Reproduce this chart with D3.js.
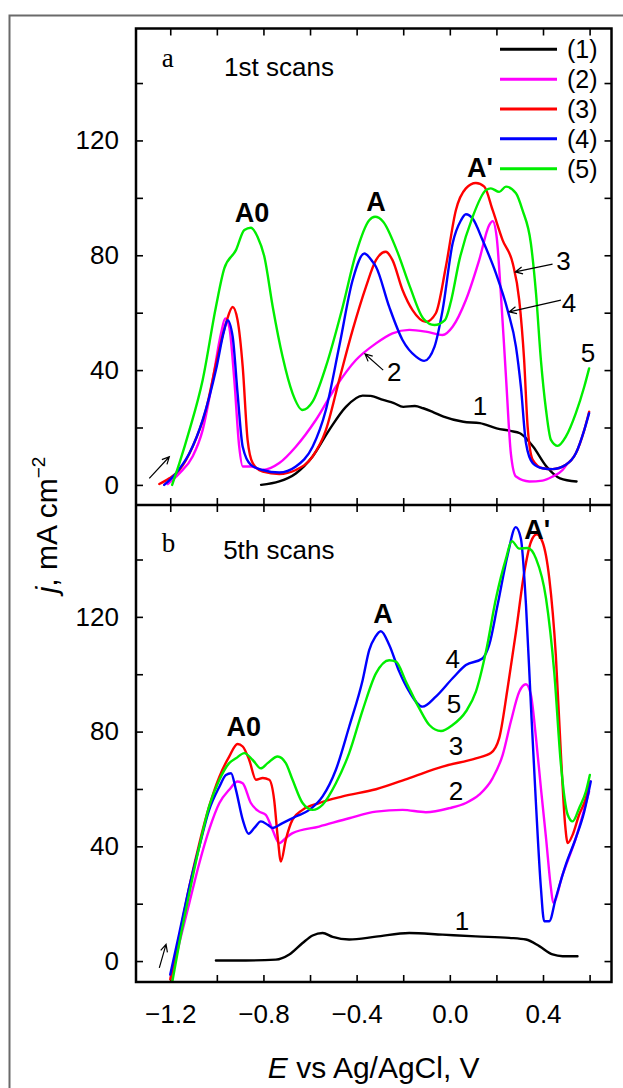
<!DOCTYPE html>
<html><head><meta charset="utf-8">
<script src="https://cdn.jsdelivr.net/npm/d3@7"></script>
<style>body{margin:0;background:#fff}svg{display:block}text{font-family:"Liberation Sans",Arial,sans-serif}</style>
</head><body><svg id="c" width="623" height="1088"></svg>
<script>
// ---------- data ----------
const seriesNames = ["(1)","(2)","(3)","(4)","(5)"];
const seriesColors = ["#000000","#ff00ff","#ff0000","#0000ff","#00ee00"];
const xTickValues = [-1.2,-1.0,-0.8,-0.6,-0.4,-0.2,0.0,0.2,0.4,0.6];
const xTickLabels = {"-1.2":"\u22121.2","-0.8":"\u22120.8","-0.4":"\u22120.4","0":"0.0","0.4":"0.4"};
const yTickValues = [0,20,40,60,80,100,120,140];
const yTickLabels = {"0":"0","40":"40","80":"80","120":"120"};

// panel a: 1st scans, [E (V), j (mA cm-2)]
const scanA1 = [[-0.810,0],[-0.732,1.2],[-0.661,4],[-0.589,9.9],[-0.518,19.1],[-0.446,27.2],[-0.374,31.1],[-0.340,31],[-0.286,29.6],[-0.240,28.5],[-0.200,27.2],[-0.150,27.5],[-0.114,26.7],[-0.070,25.3],[-0.027,23.8],[0.058,22],[0.129,21.5],[0.201,19.7],[0.260,18.8],[0.301,18],[0.330,16],[0.358,13.3],[0.415,6.4],[0.473,2.3],[0.544,1.2]];
const scanA2 = [[-1.211,0.3],[-1.161,4],[-1.104,9.9],[-1.061,19.1],[-1.018,36.5],[-0.982,52.8],[-0.964,58],[-0.947,55.1],[-0.925,36.5],[-0.904,13.3],[-0.889,6.4],[-0.854,6.4],[-0.803,5.2],[-0.732,7.6],[-0.661,13.3],[-0.575,22.6],[-0.489,34.2],[-0.403,43.5],[-0.317,49.3],[-0.246,52.8],[-0.174,54],[-0.103,53.4],[-0.031,52.2],[0.012,55.1],[0.069,64.4],[0.126,78.3],[0.169,90.5],[0.184,91.9],[0.201,86.4],[0.219,66.7],[0.241,37.7],[0.262,11],[0.284,2.9],[0.341,1.2],[0.398,1.5],[0.441,2.9],[0.484,5.2],[0.506,7.6]];
const scanA3 = [[-1.247,0.3],[-1.204,2.3],[-1.161,5.2],[-1.104,13.3],[-1.047,26.1],[-0.997,44.7],[-0.961,56.3],[-0.932,62],[-0.911,57.4],[-0.889,41.2],[-0.868,15.7],[-0.846,7.6],[-0.803,4.6],[-0.732,3.8],[-0.661,5.2],[-0.589,9.9],[-0.532,19.1],[-0.475,36.5],[-0.417,54],[-0.360,69],[-0.317,78.3],[-0.275,81.2],[-0.246,78.3],[-0.203,67.9],[-0.160,60.9],[-0.103,56.8],[-0.060,59.8],[-0.017,76],[0.026,95.7],[0.069,103.3],[0.112,105.2],[0.148,103.9],[0.184,95.7],[0.227,85.2],[0.270,77.2],[0.298,64.4],[0.319,43.5],[0.334,20.3],[0.356,8.7],[0.398,5.8],[0.441,5.5],[0.498,7],[0.541,11],[0.577,19.1],[0.598,25.5]];
const scanA4 = [[-1.226,0],[-1.176,4],[-1.118,11],[-1.061,22.6],[-1.004,40],[-0.968,54],[-0.954,57.4],[-0.932,51.6],[-0.911,31.9],[-0.889,13.3],[-0.854,7],[-0.803,5.2],[-0.732,4.3],[-0.661,6.4],[-0.589,13.3],[-0.532,26.1],[-0.475,48.1],[-0.417,71.4],[-0.367,80.6],[-0.331,77.7],[-0.317,76],[-0.260,62],[-0.203,50.5],[-0.145,44.7],[-0.110,43.2],[-0.066,48.1],[-0.031,60.9],[0.012,84.1],[0.048,92.2],[0.069,94.3],[0.098,92.8],[0.141,85.2],[0.198,73.7],[0.248,60.9],[0.284,48.1],[0.305,34.2],[0.327,14.5],[0.356,7.6],[0.398,5.8],[0.441,5.5],[0.498,7],[0.541,11],[0.577,19.1],[0.598,25]];
const scanA5 = [[-1.192,0],[-1.161,7.5],[-1.118,19],[-1.061,36.5],[-1.004,62],[-0.968,75.4],[-0.918,81.8],[-0.882,88.8],[-0.854,89.6],[-0.825,86.4],[-0.796,79.5],[-0.760,62],[-0.718,44.7],[-0.675,31.9],[-0.632,26.1],[-0.589,29],[-0.532,41.2],[-0.460,62],[-0.403,80.6],[-0.346,92.2],[-0.321,93.4],[-0.286,91.7],[-0.228,81.8],[-0.171,69],[-0.114,58],[-0.066,55.7],[-0.021,57.4],[0.005,64],[0.041,78.3],[0.098,93.4],[0.155,102.7],[0.176,103.3],[0.212,102.1],[0.241,103.9],[0.284,101.6],[0.312,95.7],[0.348,84.1],[0.370,66.7],[0.391,43.5],[0.413,26.1],[0.434,15.7],[0.463,13.6],[0.498,16.8],[0.541,25],[0.577,34.2],[0.598,40.6]];

// panel b: 5th scans
const scanB1 = [[-1.004,0.2],[-0.876,0.2],[-0.747,0.5],[-0.689,2.3],[-0.632,6.3],[-0.589,8.9],[-0.546,9.8],[-0.503,8.4],[-0.432,7.5],[-0.317,8.5],[-0.174,9.8],[-0.031,9.2],[0.112,8.6],[0.255,8.1],[0.327,7.5],[0.384,5.2],[0.441,2.3],[0.484,1.7],[0.548,1.7]];
const scanB2 = [[-1.197,-5.8],[-1.161,6.3],[-1.118,20.3],[-1.075,34.2],[-1.033,45.8],[-0.989,55.1],[-0.947,59.7],[-0.911,62.6],[-0.889,62],[-0.854,55.1],[-0.818,52.1],[-0.790,51],[-0.761,45.8],[-0.732,41.1],[-0.704,42.9],[-0.675,44.6],[-0.561,46.9],[-0.432,49.8],[-0.317,52.1],[-0.203,52.7],[-0.103,51.9],[-0.002,53.3],[0.069,55.1],[0.126,58],[0.184,63.8],[0.227,71.9],[0.262,83.5],[0.298,93.9],[0.327,96.5],[0.348,92.8],[0.370,77.7],[0.391,60.3],[0.413,42.9],[0.434,25.5],[0.444,20.3],[0.484,30.1],[0.541,42.9],[0.598,59.1]];
const scanB3 = [[-1.200,-6.4],[-1.161,8.6],[-1.118,26],[-1.075,41.1],[-1.033,53.9],[-0.989,64.3],[-0.947,71.3],[-0.911,75.7],[-0.889,74.8],[-0.861,70.1],[-0.832,63.2],[-0.803,63.8],[-0.775,63.2],[-0.754,56.2],[-0.739,43.4],[-0.725,34.7],[-0.704,42.3],[-0.675,49.3],[-0.632,52.7],[-0.561,55.1],[-0.460,57.4],[-0.317,59.9],[-0.174,63.8],[-0.031,67.8],[0.112,70.7],[0.176,72.5],[0.212,77.7],[0.248,95.1],[0.284,114.8],[0.320,135.7],[0.348,146.1],[0.373,148.8],[0.398,146.1],[0.427,133.4],[0.455,106.7],[0.477,71.9],[0.495,47.5],[0.506,41.1],[0.527,44],[0.555,51],[0.584,56.8],[0.601,62.6]];
const scanB4 = [[-1.2,-4.7],[-1.161,9.8],[-1.118,26],[-1.075,40],[-1.033,52.7],[-0.989,60.8],[-0.961,64.9],[-0.939,65.5],[-0.918,59.7],[-0.889,49.3],[-0.864,44.4],[-0.839,46.4],[-0.811,48.7],[-0.782,47.5],[-0.761,46.4],[-0.718,48.1],[-0.661,50.4],[-0.603,52.7],[-0.546,57.4],[-0.489,66.7],[-0.432,81.7],[-0.374,98],[-0.346,108.4],[-0.320,113],[-0.296,115],[-0.260,110.2],[-0.217,100.9],[-0.174,93.9],[-0.117,88.7],[-0.060,92.2],[0.012,98.6],[0.069,103.2],[0.140,105.5],[0.169,110.2],[0.205,124.1],[0.248,141.5],[0.283,151.3],[0.305,147.3],[0.327,124.1],[0.348,89.3],[0.370,54.5],[0.391,25.5],[0.405,13.9],[0.427,13.9],[0.455,22],[0.498,33.6],[0.541,42.9],[0.577,52.1],[0.605,62.6]];
const scanB5 = [[-1.192,-7.6],[-1.161,6.3],[-1.118,23.7],[-1.075,40],[-1.033,53.9],[-0.989,63.2],[-0.947,69],[-0.918,70.7],[-0.882,72.5],[-0.846,70.1],[-0.811,67.2],[-0.782,69],[-0.739,71.3],[-0.704,69],[-0.675,63.2],[-0.632,55.1],[-0.589,52.7],[-0.546,54.5],[-0.489,62],[-0.432,72.5],[-0.374,87.5],[-0.317,100.3],[-0.260,104.9],[-0.231,104.4],[-0.188,97.4],[-0.131,88.1],[-0.088,82.3],[-0.038,80.2],[0.012,82.3],[0.069,87],[0.112,93.9],[0.155,107.8],[0.198,126.4],[0.241,140.3],[0.266,146.4],[0.298,143.8],[0.334,144],[0.370,140.3],[0.413,126.4],[0.448,100.9],[0.477,68.4],[0.506,51],[0.527,48.7],[0.555,53.3],[0.584,59.1],[0.601,64.9]];

// annotations in data units
const labelsA = [
  {t:"A0",E:-0.849,j:91.5,bold:true,anchor:"middle"},
  {t:"A",E:-0.317,j:95.4,bold:true,anchor:"middle"},
  {t:"A'",E:0.129,j:107.2,bold:true,anchor:"middle"},
  {t:"2",E:-0.270,j:36.2,anchor:"start"},
  {t:"1",E:0.129,j:24.4,anchor:"middle"},
  {t:"3",E:0.488,j:74.8,anchor:"middle"},
  {t:"4",E:0.511,j:60.3,anchor:"middle"},
  {t:"5",E:0.593,j:42.8,anchor:"middle"},
  {t:"1st scans",E:-0.969,j:142.6,anchor:"start"}
];
const arrowsA = [
  {from:[-1.290,2.3],to:[-1.204,9.8]},
  {from:[-0.286,40],to:[-0.364,45.6]},
  {from:[0.441,76.9],to:[0.281,74.2]},
  {from:[0.477,64.4],to:[0.255,60.3]}
];
const labelsB = [
  {t:"A0",E:-0.884,j:78.3,bold:true,anchor:"middle"},
  {t:"A",E:-0.287,j:118,bold:true,anchor:"middle"},
  {t:"A'",E:0.375,j:147,bold:true,anchor:"middle"},
  {t:"4",E:0.012,j:102.3,anchor:"middle"},
  {t:"5",E:0.018,j:86.6,anchor:"middle"},
  {t:"3",E:0.026,j:72,anchor:"middle"},
  {t:"2",E:0.026,j:56.3,anchor:"middle"},
  {t:"1",E:0.052,j:11,anchor:"middle"},
  {t:"5th scans",E:-0.973,j:140,anchor:"start"}
];
const arrowsB = [
  {from:[-1.247,-2.4],to:[-1.218,5.8]}
];

// ---------- drawing ----------
const svg = d3.select("#c");
const L = 136, R = 611.5, topA = 28.5, mid = 505, botB = 982;
const x = d3.scaleLinear().domain([-1.347, 0.694]).range([L, R]);
const yA = d3.scaleLinear().domain([-7, 159]).range([mid, topA]);
const yB = d3.scaleLinear().domain([-7.3, 159]).range([botB, mid]);

// outer frame
svg.append("rect").attr("x",9.5).attr("y",15.5).attr("width",700).attr("height",1200)
  .attr("fill","none").attr("stroke","#6a6a6a").attr("stroke-width",2);

const defs = svg.append("defs");
function clip(id, y0, y1){
  defs.append("clipPath").attr("id",id).append("rect")
    .attr("x",L).attr("y",y0).attr("width",R-L).attr("height",y1-y0);
}
clip("cpA", topA, mid); clip("cpB", mid, botB);

function styleAxis(g, labels){
  g.select(".domain").remove();
  g.selectAll(".tick line").attr("stroke","#000").attr("stroke-width",1.6);
  g.selectAll("text").attr("font-size",26).attr("fill","#000")
    .attr("font-family",'"Liberation Sans",Arial,sans-serif');
}
const fmtX = d => xTickLabels[String(+d.toFixed(1))] || "";
const fmtY = d => yTickLabels[String(d)] || "";
const tk = 7;

function panel(y, y0, y1, scans, labels, arrows, cp, showBottomLabels){
  // axes
  const gl = svg.append("g").attr("transform",`translate(${L},0)`)
    .call(d3.axisLeft(y).tickValues(yTickValues).tickSize(-tk).tickPadding(17).tickFormat(fmtY));
  styleAxis(gl);
  const gr = svg.append("g").attr("transform",`translate(${R},0)`)
    .call(d3.axisRight(y).tickValues(yTickValues).tickSize(-tk).tickFormat(""));
  styleAxis(gr);
  const gt = svg.append("g").attr("transform",`translate(0,${y0})`)
    .call(d3.axisTop(x).tickValues(xTickValues).tickSize(-tk).tickFormat(""));
  styleAxis(gt);
  const gb = svg.append("g").attr("transform",`translate(0,${y1})`)
    .call(d3.axisBottom(x).tickValues(xTickValues).tickSize(-tk).tickPadding(23)
      .tickFormat(showBottomLabels ? fmtX : ""));
  styleAxis(gb);

  const line = d3.line().x(d=>x(d[0])).y(d=>y(d[1])).curve(d3.curveMonotoneX);
  const g = svg.append("g").attr("clip-path",`url(#${cp})`);
  scans.forEach((s,i)=>{
    g.append("path").datum(s).attr("d",line).attr("fill","none")
      .attr("stroke",seriesColors[i]).attr("stroke-width",2.4)
      .attr("stroke-linejoin","round").attr("stroke-linecap","round");
  });

  labels.forEach(l=>{
    svg.append("text").attr("x",x(l.E)).attr("y",y(l.j))
      .attr("text-anchor",l.anchor).attr("font-size",l.bold?27:26)
      .attr("font-weight",l.bold?"bold":"normal").attr("fill","#000").text(l.t);
  });

  arrows.forEach(a=>{
    const x1=x(a.from[0]), y1=y(a.from[1]), x2=x(a.to[0]), y2=y(a.to[1]);
    const ang = Math.atan2(y2-y1, x2-x1), h=8, w=0.45;
    const p1=[x2-h*Math.cos(ang-w), y2-h*Math.sin(ang-w)];
    const p2=[x2-h*Math.cos(ang+w), y2-h*Math.sin(ang+w)];
    svg.append("path")
      .attr("d",`M${x1},${y1}L${x2},${y2}M${p1[0]},${p1[1]}L${x2},${y2}L${p2[0]},${p2[1]}`)
      .attr("fill","none").attr("stroke","#000").attr("stroke-width",1.2);
  });
}

panel(yA, topA, mid, [scanA1,scanA2,scanA3,scanA4,scanA5], labelsA, arrowsA, "cpA", false);
panel(yB, mid, botB, [scanB1,scanB2,scanB3,scanB4,scanB5], labelsB, arrowsB, "cpB", true);

// frame lines
svg.append("rect").attr("x",L).attr("y",topA).attr("width",R-L).attr("height",botB-topA)
  .attr("fill","none").attr("stroke","#000").attr("stroke-width",2.5);
svg.append("line").attr("x1",L).attr("x2",R).attr("y1",mid).attr("y2",mid)
  .attr("stroke","#000").attr("stroke-width",2.5);

// panel letters (serif)
svg.append("text").attr("x",x(-1.236)).attr("y",yA(145.5)).attr("font-size",27)
  .style("font-family",'"Liberation Serif","Times New Roman",serif').text("a");
svg.append("text").attr("x",x(-1.236)).attr("y",yB(142.6)).attr("font-size",27)
  .style("font-family",'"Liberation Serif","Times New Roman",serif').text("b");

// legend
const lg = svg.append("g");
seriesNames.forEach((n,i)=>{
  const ly = 49.3 + i*29.85;
  lg.append("line").attr("x1",500).attr("x2",557).attr("y1",ly).attr("y2",ly)
    .attr("stroke",seriesColors[i]).attr("stroke-width",3);
  lg.append("text").attr("x",567).attr("y",ly).attr("dy","0.36em")
    .attr("font-size",25).attr("fill","#000").text(n);
});

// axis titles
const xt = svg.append("text").attr("x",(L+R)/2).attr("y",1078).attr("text-anchor","middle")
  .attr("font-size",30).attr("fill","#000");
xt.append("tspan").attr("font-style","italic").text("E");
xt.append("tspan").text(" vs Ag/AgCl, V");

const yt = svg.append("text").attr("transform","translate(57,525) rotate(-90)")
  .attr("text-anchor","middle").attr("font-size",30).attr("fill","#000");
yt.append("tspan").attr("font-style","italic").text("j");
yt.append("tspan").text(", mA cm");
yt.append("tspan").attr("font-size",19).attr("dy",-12).text("\u22122");
</script></body></html>
